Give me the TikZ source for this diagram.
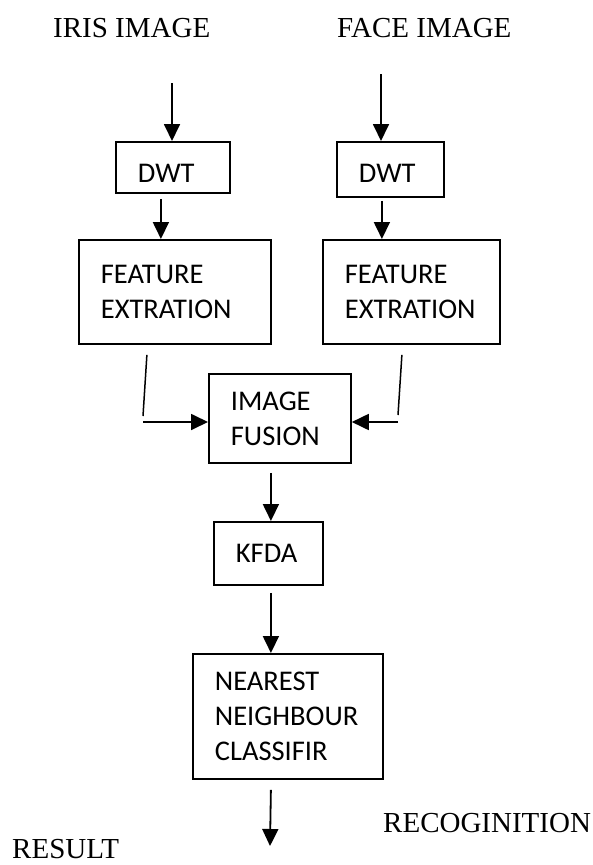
\documentclass[tikz,border=0pt]{standalone}
\usepackage{fontspec}
\setmainfont{Liberation Serif}
\newfontfamily\boxfont{Carlito}
\usepackage{tikz}
\usetikzlibrary{arrows.meta}

\tikzset{
    blk/.style={draw, line width=1.8pt, anchor=north west, align=left,
        inner xsep=22pt, inner ysep=0pt, font=\boxfont\fontsize{28.5}{35}\selectfont},
    lbl/.style={anchor=base west, inner sep=0pt, font=\fontsize{29}{34}\selectfont},
    arr/.style={-{Triangle[length=17pt, width=16pt]}, line width=1.8pt},
}

\begin{document}
\begin{tikzpicture}[x=1pt, y=-1pt]
            \useasboundingbox (0, 0) rectangle (592, 865);

            \node [lbl] (iris) at (53, 37) {IRIS IMAGE};
            \node [lbl] (face) at (337, 37) {FACE IMAGE};

            \node [blk, text width=70pt, minimum height=51pt, text height=30pt] (dwt1) at (115, 141) {DWT};
            \node [blk, text width=63pt, minimum height=55pt, text height=26.5pt] (dwt2) at (336, 141) {DWT};

            \node [blk, text width=148pt, minimum height=104pt] (feat1) at (78, 239) {FEATURE\\EXTRATION};
            \node [blk, text width=133pt, minimum height=104pt] (feat2) at (322, 239) {FEATURE\\EXTRATION};

            \node [blk, text width=98pt, minimum height=89pt] (fus) at (208, 373) {IMAGE\\FUSION};
            \node [blk, text width=65pt, minimum height=63pt] (kfda) at (213, 521) {KFDA};
            \node [blk, text width=146pt, minimum height=125pt] (nn) at (192, 653) {NEAREST\\NEIGHBOUR\\CLASSIFIR};

            \node [lbl] (recog) at (383, 832) {RECOGINITION};
            \node [lbl] (result) at (12, 858) {RESULT};

            % inputs
            \coordinate (in1) at (172, 83);
            \coordinate (in2) at (381, 74);
            \draw [arr] (in1) -- (in1 |- dwt1.north);
            \draw [arr] (in2) -- (in2 |- dwt2.north);

            \draw [arr] ([xshift=-12pt, yshift=-5pt] dwt1.south) -- ([xshift=-12pt] dwt1.south |- feat1.north);
            \draw [arr] ([xshift=-8.5pt, yshift=-3pt] dwt2.south) -- ([xshift=-8.5pt] dwt2.south |- feat2.north);

            % into the fusion
            \coordinate (j1) at (143, 422);
            \coordinate (j2) at (398, 422);
            \draw [line width=1.5pt] ([xshift=-28pt, yshift=-10pt] feat1.south) -- ([yshift=6pt] j1);
            \draw [arr] (j1) -- (j1 -| fus.west);
            \draw [line width=1.5pt] ([xshift=-9.5pt, yshift=-10pt] feat2.south) -- ([yshift=7pt] j2);
            \draw [arr] (j2) -- (j2 -| fus.east);

            \draw [arr] ([xshift=-9pt, yshift=-9pt] fus.south) -- ([xshift=-9pt] fus.south |- kfda.north);
            \draw [arr] ([xshift=2.5pt, yshift=-7pt] kfda.south) -- ([xshift=2.5pt] kfda.south |- nn.north);

            % result
            \coordinate (out) at (270, 846);
            \draw [arr] ([xshift=-17pt, yshift=-10pt] nn.south) -- (out);
        \end{tikzpicture}
\end{document}
